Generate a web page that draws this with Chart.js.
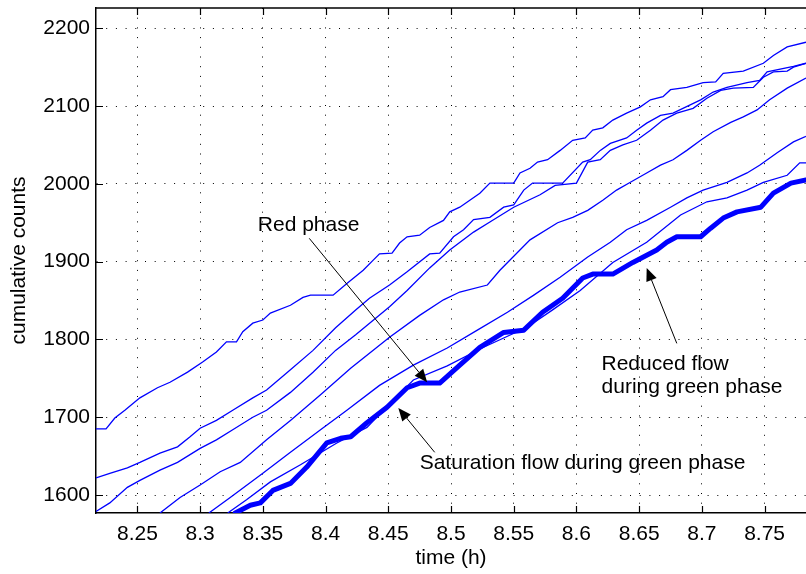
<!DOCTYPE html>
<html>
<head>
<meta charset="utf-8">
<script src="https://cdn.jsdelivr.net/npm/chart.js@4.4.1/dist/chart.umd.min.js"></script>
<style>
  html, body { margin: 0; padding: 0; background: #fff; }
  #wrap { width: 806px; height: 574px; }
</style>
</head>
<body>
<div id="wrap"><canvas id="myChart"></canvas></div>
<script>
// tick labels
var xTicks = [8.25, 8.3, 8.35, 8.4, 8.45, 8.5, 8.55, 8.6, 8.65, 8.7, 8.75];
var yTicks = [1600, 1700, 1800, 1900, 2000, 2100, 2200];

// cumulative count curves (time in h, counts)
var timeA = [8.217, 8.225, 8.232, 8.240, 8.252, 8.266, 8.276, 8.290, 8.302, 8.313, 8.321, 8.329, 8.334, 8.342, 8.350, 8.356, 8.372, 8.382, 8.388, 8.406, 8.417, 8.430, 8.438, 8.443, 8.453, 8.459, 8.465, 8.475, 8.483, 8.494, 8.499, 8.507, 8.515, 8.523, 8.531, 8.550, 8.555, 8.563, 8.569, 8.577, 8.587, 8.597, 8.607, 8.613, 8.621, 8.629, 8.640, 8.651, 8.659, 8.669, 8.675, 8.688, 8.701, 8.711, 8.717, 8.733, 8.749, 8.757, 8.768, 8.783];
var countA = [1685, 1685, 1699, 1709, 1725, 1738, 1745, 1758, 1771, 1784, 1797, 1797, 1810, 1821, 1825, 1834, 1844, 1854, 1857, 1857, 1872, 1889, 1902, 1910, 1911, 1924, 1932, 1934, 1944, 1953, 1964, 1970, 1979, 1988, 2001, 2001, 2014, 2020, 2028, 2031, 2043, 2056, 2059, 2069, 2072, 2082, 2091, 2099, 2108, 2112, 2121, 2124, 2130, 2131, 2142, 2145, 2155, 2165, 2176, 2182];

var timeB = [8.217, 8.228, 8.242, 8.252, 8.268, 8.282, 8.292, 8.300, 8.313, 8.326, 8.342, 8.353, 8.372, 8.390, 8.408, 8.424, 8.435, 8.451, 8.465, 8.483, 8.491, 8.502, 8.510, 8.518, 8.531, 8.542, 8.550, 8.558, 8.565, 8.589, 8.605, 8.611, 8.619, 8.627, 8.640, 8.648, 8.656, 8.667, 8.677, 8.699, 8.709, 8.720, 8.736, 8.746, 8.752, 8.773, 8.783];
var countB = [1622, 1628, 1635, 1642, 1654, 1662, 1675, 1686, 1696, 1709, 1725, 1735, 1761, 1786, 1815, 1838, 1853, 1870, 1887, 1910, 1911, 1932, 1941, 1954, 1957, 1970, 1973, 1992, 2001, 2001, 2028, 2031, 2043, 2052, 2059, 2069, 2078, 2088, 2091, 2108, 2118, 2124, 2130, 2133, 2144, 2151, 2155];

var timeC = [8.217, 8.228, 8.242, 8.252, 8.268, 8.282, 8.300, 8.313, 8.326, 8.342, 8.353, 8.372, 8.390, 8.408, 8.424, 8.451, 8.465, 8.483, 8.499, 8.518, 8.531, 8.550, 8.571, 8.583, 8.600, 8.609, 8.619, 8.627, 8.637, 8.648, 8.659, 8.669, 8.680, 8.693, 8.704, 8.715, 8.725, 8.741, 8.749, 8.757, 8.768, 8.773, 8.783];
var countC = [1579, 1590, 1610, 1619, 1632, 1642, 1660, 1671, 1684, 1700, 1709, 1732, 1758, 1786, 1806, 1842, 1863, 1892, 1915, 1938, 1951, 1970, 1986, 1998, 2001, 2028, 2031, 2043, 2050, 2056, 2069, 2082, 2091, 2097, 2110, 2120, 2123, 2124, 2137, 2144, 2145, 2150, 2155];

var timeD = [8.268, 8.284, 8.300, 8.316, 8.332, 8.353, 8.372, 8.396, 8.420, 8.451, 8.475, 8.494, 8.507, 8.529, 8.539, 8.563, 8.585, 8.597, 8.609, 8.621, 8.632, 8.643, 8.656, 8.667, 8.677, 8.688, 8.699, 8.709, 8.723, 8.733, 8.744, 8.754, 8.768, 8.783];
var countD = [1577, 1597, 1613, 1630, 1642, 1671, 1696, 1729, 1763, 1803, 1831, 1851, 1861, 1870, 1889, 1928, 1950, 1957, 1966, 1979, 1992, 2002, 2014, 2024, 2031, 2043, 2056, 2067, 2079, 2086, 2095, 2108, 2123, 2136];

var timeE = [8.307, 8.324, 8.350, 8.372, 8.396, 8.417, 8.443, 8.470, 8.497, 8.521, 8.545, 8.566, 8.587, 8.609, 8.627, 8.640, 8.656, 8.675, 8.688, 8.701, 8.720, 8.736, 8.746, 8.760, 8.773, 8.783];
var countE = [1577, 1597, 1628, 1655, 1684, 1709, 1741, 1767, 1789, 1812, 1835, 1857, 1880, 1906, 1925, 1941, 1953, 1970, 1982, 1992, 2002, 2014, 2024, 2040, 2054, 2061];

var timeF = [8.322, 8.337, 8.356, 8.380, 8.409, 8.433, 8.454, 8.470, 8.497, 8.526, 8.561, 8.581, 8.603, 8.629, 8.656, 8.683, 8.704, 8.720, 8.736, 8.749, 8.768, 8.778, 8.783];
var countF = [1577, 1594, 1617, 1639, 1667, 1687, 1722, 1748, 1766, 1790, 1816, 1838, 1863, 1899, 1925, 1960, 1977, 1982, 1992, 2002, 2011, 2027, 2027];

// the thick curve
var timeG = [8.328, 8.340, 8.348, 8.358, 8.372, 8.385, 8.401, 8.412, 8.420, 8.433, 8.449, 8.465, 8.475, 8.491, 8.507, 8.523, 8.542, 8.558, 8.573, 8.589, 8.605, 8.613, 8.629, 8.645, 8.664, 8.672, 8.680, 8.699, 8.707, 8.717, 8.728, 8.747, 8.757, 8.771, 8.783];
var countG = [1577, 1587, 1590, 1606, 1615, 1636, 1667, 1673, 1675, 1693, 1713, 1738, 1744, 1744, 1767, 1790, 1809, 1812, 1835, 1853, 1879, 1884, 1884, 1899, 1915, 1925, 1932, 1932, 1943, 1956, 1964, 1970, 1988, 2001, 2005];

function pts(t, c) {
    return t.map(function (v, i) { return { x: v, y: c[i] }; });
}

var FONT = '"Liberation Sans", Arial, Helvetica, sans-serif';

// text + arrows, in data units
var notes = [
    { text: ['Red phase'], x: 8.346, y: 1939, from: [8.387, 1930], to: [8.481, 1745] },
    { text: ['Saturation flow during green phase'], x: 8.475, y: 1633, from: [8.487, 1655], to: [8.458, 1712] },
    { text: ['Reduced flow', 'during green phase'], x: 8.620, y: 1761, from: [8.680, 1795], to: [8.656, 1892] }
];

var extras = {
    id: 'extras',
    afterDraw: function (chart) {
        var c = chart.ctx, a = chart.chartArea;
        var xs = chart.scales.x, ys = chart.scales.y;
        c.save();
        // top box line
        c.strokeStyle = '#000';
        c.lineWidth = 1.5;
        c.beginPath();
        c.moveTo(a.left, a.top);
        c.lineTo(a.right, a.top);
        c.stroke();
        // inward ticks
        c.lineWidth = 1.2;
        c.beginPath();
        xTicks.forEach(function (v) {
            var px = Math.round(xs.getPixelForValue(v)) + 0.5;
            c.moveTo(px, a.bottom); c.lineTo(px, a.bottom - 7);
            c.moveTo(px, a.top); c.lineTo(px, a.top + 7);
        });
        yTicks.forEach(function (v) {
            var py = Math.round(ys.getPixelForValue(v)) + 0.5;
            c.moveTo(a.left, py); c.lineTo(a.left + 7, py);
        });
        c.stroke();

        // annotations
        c.fillStyle = '#000';
        c.font = '21px ' + FONT;
        c.textBaseline = 'alphabetic';
        notes.forEach(function (n) {
            var tx = xs.getPixelForValue(n.x), ty = ys.getPixelForValue(n.y);
            n.text.forEach(function (s, i) { c.fillText(s, tx, ty + i * 23); });
            var x1 = xs.getPixelForValue(n.from[0]), y1 = ys.getPixelForValue(n.from[1]);
            var x2 = xs.getPixelForValue(n.to[0]), y2 = ys.getPixelForValue(n.to[1]);
            var ang = Math.atan2(y2 - y1, x2 - x1);
            var hl = 13, hw = 5.5;
            var bx = x2 - hl * Math.cos(ang), by = y2 - hl * Math.sin(ang);
            c.lineWidth = 1;
            c.beginPath();
            c.moveTo(x1, y1); c.lineTo(bx, by);
            c.stroke();
            c.beginPath();
            c.moveTo(x2, y2);
            c.lineTo(bx + hw * Math.sin(ang), by - hw * Math.cos(ang));
            c.lineTo(bx - hw * Math.sin(ang), by + hw * Math.cos(ang));
            c.closePath();
            c.fill();
        });
        c.restore();
    }
};

function thin(t, c) {
    return { data: pts(t, c), borderColor: '#0000ff', borderWidth: 1.3, pointRadius: 0, tension: 0, fill: false };
}

var ctx = document.getElementById('myChart').getContext('2d');
var chart = new Chart(ctx, {
    type: 'line',
    data: {
        datasets: [
            // thick one first so it is drawn on top
            { data: pts(timeG, countG), borderColor: '#0000ff', borderWidth: 5, pointRadius: 0, tension: 0, fill: false, borderJoinStyle: 'round', borderCapStyle: 'round' },
            thin(timeA, countA),
            thin(timeB, countB),
            thin(timeC, countC),
            thin(timeD, countD),
            thin(timeE, countE),
            thin(timeF, countF)
        ]
    },
    options: {
        responsive: true,
        maintainAspectRatio: false,
        animation: false,
        devicePixelRatio: 1,
        layout: { padding: { top: 8, left: 0, right: 0, bottom: 0 } },
        plugins: { legend: { display: false }, tooltip: { enabled: false } },
        scales: {
            x: {
                type: 'linear',
                min: 8.217,
                max: 8.783,
                afterBuildTicks: function (s) { s.ticks = xTicks.map(function (v) { return { value: v }; }); },
                afterFit: function (s) { s.height = 61; s.paddingLeft = 0; s.paddingRight = 0; },
                ticks: {
                    autoSkip: false, maxRotation: 0, padding: 9, color: '#000',
                    font: { family: FONT, size: 21 },
                    callback: function (v) { return String(v); }
                },
                grid: { color: '#000', lineWidth: 1, drawTicks: false },
                border: { display: true, color: '#000', width: 1.5, dash: [1, 8.7] },
                title: { display: true, text: 'time (h)', color: '#000', font: { family: FONT, size: 21 }, padding: { top: 0, bottom: 3 } }
            },
            y: {
                min: 1577,
                max: 2226,
                afterBuildTicks: function (s) { s.ticks = yTicks.map(function (v) { return { value: v }; }); },
                afterFit: function (s) { s.width = 96; s.paddingTop = 0; s.paddingBottom = 0; },
                ticks: {
                    padding: 6, color: '#000',
                    font: { family: FONT, size: 21 },
                    callback: function (v) { return String(v); }
                },
                grid: { color: '#000', lineWidth: 1, drawTicks: false },
                border: { display: true, color: '#000', width: 1.5, dash: [1, 8.7] },
                title: { display: true, text: 'cumulative counts', color: '#000', font: { family: FONT, size: 21 }, padding: { top: 7, bottom: 0 } }
            }
        }
    },
    plugins: [extras]
});
</script>
</body>
</html>
